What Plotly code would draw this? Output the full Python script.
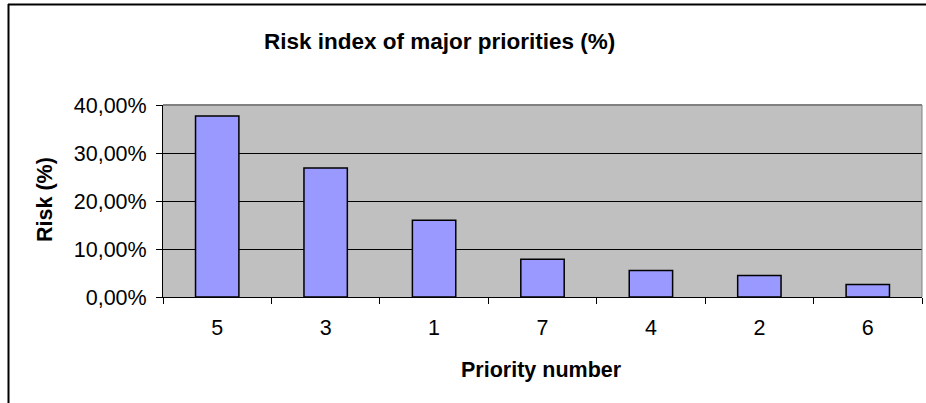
import plotly.graph_objects as go

# Priority numbers (in ranked order) and their risk index
priorities = ["5", "3", "1", "7", "4", "2", "6"]
risk_values = [0.377, 0.269, 0.160, 0.0785, 0.055, 0.045, 0.026]
y_ticks = [0.0, 0.1, 0.2, 0.3, 0.4]

title_text = "Risk index of major priorities (%)"
x_title = "Priority number"
y_title = "Risk (%)"

W, H = 926, 403
L, R, T, B = 163, 4, 105, 106
plot_w = W - L - R
plot_h = H - T - B


def px_x(x):
    return (x - L) / plot_w


def px_y(y):
    return (H - B - y) / plot_h


FONT = "Liberation Sans, Arial, sans-serif"
TICK_SIZE = 21.5

fig = go.Figure(
    go.Bar(
        x=priorities,
        y=risk_values,
        width=0.4,
        marker=dict(color="#9999FF", line=dict(color="#000000", width=1.5)),
        hoverinfo="x+y",
    )
)

fig.update_layout(
    width=W,
    height=H,
    margin=dict(l=L, r=R, t=T, b=B, pad=0),
    paper_bgcolor="#FFFFFF",
    plot_bgcolor="#C0C0C0",
    separators=",.",
    showlegend=False,
    font=dict(family=FONT, color="#000000", size=TICK_SIZE),
    bargap=0.6,
)

fig.update_xaxes(
    type="category",
    showgrid=False,
    zeroline=False,
    showline=True,
    linecolor="#000000",
    linewidth=1,
    ticks="outside",
    tickson="boundaries",
    ticklen=6,
    tickcolor="#000000",
    tickfont=dict(size=TICK_SIZE, family=FONT),
    ticklabelstandoff=11,
)

fig.update_yaxes(
    range=[0, 0.4],
    tickvals=y_ticks,
    tickformat=".2%",
    showgrid=True,
    gridcolor="#000000",
    gridwidth=1,
    zeroline=False,
    showline=True,
    linecolor="#000000",
    linewidth=1,
    ticks="outside",
    ticklen=6,
    tickcolor="#000000",
    tickfont=dict(size=TICK_SIZE, family=FONT),
    ticklabelstandoff=5,
)

# grey border along the top and right of the plotting area
fig.add_shape(type="line", xref="paper", yref="paper", x0=0, x1=1, y0=1, y1=1,
              line=dict(color="#808080", width=2), layer="above")
fig.add_shape(type="line", xref="paper", yref="paper", x0=1, x1=1, y0=0, y1=1,
              line=dict(color="#808080", width=1), layer="above")

# outer chart frame (top and left edges)
fig.add_shape(type="line", xref="paper", yref="paper",
              x0=px_x(8), x1=px_x(W + 5), y0=px_y(4.5), y1=px_y(4.5),
              line=dict(color="#000000", width=2))
fig.add_shape(type="line", xref="paper", yref="paper",
              x0=px_x(8.5), x1=px_x(8.5), y0=px_y(4), y1=px_y(H + 5),
              line=dict(color="#000000", width=2))

fig.add_annotation(text=f"<b>{title_text}</b>", xref="paper", yref="paper",
                   x=px_x(439), y=px_y(41), xanchor="center", yanchor="middle",
                   showarrow=False, font=dict(size=22.5, family=FONT))
fig.add_annotation(text=f"<b>{x_title}</b>", xref="paper", yref="paper",
                   x=px_x(541), y=px_y(370), xanchor="center", yanchor="middle",
                   showarrow=False, font=dict(size=21.5, family=FONT))
fig.add_annotation(text=f"<b>{y_title}</b>", xref="paper", yref="paper",
                   x=px_x(45), y=px_y(200), xanchor="center", yanchor="middle",
                   textangle=-90, showarrow=False, font=dict(size=21.5, family=FONT))

fig.write_html("out.html")
